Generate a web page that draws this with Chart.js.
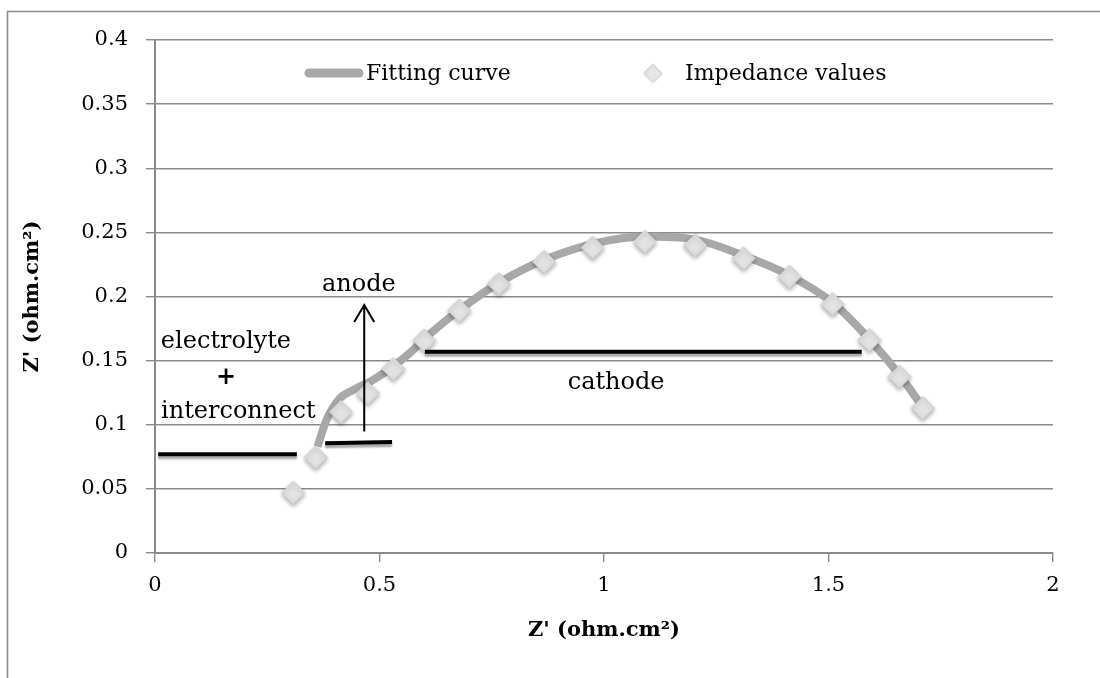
<!DOCTYPE html>
<html>
<head>
<meta charset="utf-8">
<script src="https://cdn.jsdelivr.net/npm/chart.js@4.4.0/dist/chart.umd.min.js"></script>
<style>
html,body{margin:0;padding:0;background:#fff;}
#wrap{width:1100px;height:678px;position:relative;}
</style>
</head>
<body>
<div id="wrap"><canvas id="nyquist" width="1100" height="678"></canvas></div>
<script>
// measured impedance values (diamonds)
var impX = [0.308, 0.358, 0.414, 0.474, 0.531, 0.600, 0.678, 0.766, 0.867, 0.975, 1.091, 1.203, 1.311, 1.413, 1.509, 1.591, 1.658, 1.710];
var impY = [0.047, 0.0745, 0.110, 0.1246, 0.1435, 0.1656, 0.189, 0.2097, 0.227, 0.238, 0.2427, 0.240, 0.2297, 0.2154, 0.194, 0.166, 0.1375, 0.113];

// fitting curve
var fitX = [0.362, 0.382, 0.412, 0.442, 0.486, 0.531, 0.575, 0.60, 0.68, 0.77, 0.87, 0.98, 1.09, 1.20, 1.31, 1.41, 1.51, 1.59, 1.66, 1.715];
var fitY = [0.083, 0.1038, 0.1207, 0.1272, 0.135, 0.1456, 0.1583, 0.167, 0.19, 0.2115, 0.229, 0.2415, 0.2467, 0.2445, 0.232, 0.217, 0.195, 0.167, 0.138, 0.111];

// hand drawn markers on the plot
var elecLineX = [0.007, 0.316];
var elecLineY = [0.077, 0.077];
var anodeLineX = [0.379, 0.528];
var anodeLineY = [0.0855, 0.0865];
var cathLineX = [0.601, 1.574];
var cathLineY = [0.157, 0.157];
var arrowX = [0.466, 0.466];
var arrowY = [0.0947, 0.1934];

var noteText = ['anode', 'electrolyte', '+', 'interconnect', 'cathode'];
var noteX = [0.454, 0.158, 0.158, 0.1855, 1.027];
var noteY = [0.209, 0.1648, 0.1363, 0.1103, 0.1324];

var xTicks = [0, 0.5, 1, 1.5, 2];
var yTicks = [0, 0.05, 0.1, 0.15, 0.2, 0.25, 0.3, 0.35, 0.4];

var serif = "'DejaVu Serif', serif";
var gridGray = '#8a8a8a';
var curveGray = '#a8a8a8';

function pts(xs, ys){
	return xs.map(function(x, i){ return {x: x, y: ys[i]}; });
}

// soft shadows like the spreadsheet markers
var shadowPlugin = {
	id: 'shadows',
	beforeDatasetDraw: function(chart, args){
		var ds = chart.data.datasets[args.index];
		chart.ctx.save();
		if (ds.shadow) {
			chart.ctx.shadowColor = ds.shadow;
			chart.ctx.shadowBlur = ds.shadowBlur || 3;
			chart.ctx.shadowOffsetX = ds.shadowOffsetX || 0;
			chart.ctx.shadowOffsetY = ds.shadowOffsetY || 2;
		}
	},
	afterDatasetDraw: function(chart){
		chart.ctx.restore();
	}
};

var framePlugin = {
	id: 'frame',
	beforeDraw: function(chart){
		var c = chart.ctx;
		c.save();
		c.fillStyle = '#fff';
		c.fillRect(0, 0, chart.width, chart.height);
		c.strokeStyle = gridGray;
		c.lineWidth = 1.6;
		c.beginPath();
		c.moveTo(7.5, chart.height + 5);
		c.lineTo(7.5, 11.5);
		c.lineTo(chart.width + 5, 11.5);
		c.stroke();
		c.restore();
	}
};

var notesPlugin = {
	id: 'notes',
	afterDatasetsDraw: function(chart){
		var c = chart.ctx, xs = chart.scales.x, ys = chart.scales.y;
		c.save();
		// arrow
		var ax = xs.getPixelForValue(arrowX[0]);
		var ay0 = ys.getPixelForValue(arrowY[0]);
		var ay1 = ys.getPixelForValue(arrowY[1]);
		c.strokeStyle = '#000';
		c.lineWidth = 2;
		c.beginPath();
		c.moveTo(ax, ay0);
		c.lineTo(ax, ay1);
		c.moveTo(ax - 10, ay1 + 17);
		c.lineTo(ax, ay1);
		c.lineTo(ax + 10, ay1 + 17);
		c.stroke();
		// labels
		c.fillStyle = '#000';
		c.textAlign = 'center';
		c.textBaseline = 'middle';
		for (var i = 0; i < noteText.length; i++) {
			c.font = (noteText[i] === '+' ? 'bold ' : '') + '24px ' + serif;
			c.fillText(noteText[i], xs.getPixelForValue(noteX[i]), ys.getPixelForValue(noteY[i]));
		}
		c.restore();
	}
};

var legendPlugin = {
	id: 'boxLegend',
	afterDraw: function(chart){
		var c = chart.ctx, a = chart.chartArea;
		var y = a.top + 33;
		c.save();
		c.strokeStyle = curveGray;
		c.lineWidth = 9;
		c.lineCap = 'round';
		c.beginPath();
		c.moveTo(a.left + 154, y);
		c.lineTo(a.left + 204, y);
		c.stroke();
		c.fillStyle = '#000';
		c.font = '22px ' + serif;
		c.textAlign = 'left';
		c.textBaseline = 'middle';
		c.fillText('Fitting curve', a.left + 211, y + 1);
		var dx = a.left + 498, r = 9;
		c.shadowColor = 'rgba(0,0,0,0.15)';
		c.shadowBlur = 2;
		c.shadowOffsetY = 1;
		c.fillStyle = '#e6e6e6';
		c.strokeStyle = '#d8d8d8';
		c.lineWidth = 1;
		c.beginPath();
		c.moveTo(dx, y - r);
		c.lineTo(dx + r, y);
		c.lineTo(dx, y + r);
		c.lineTo(dx - r, y);
		c.closePath();
		c.fill();
		c.stroke();
		c.shadowColor = 'transparent';
		c.fillStyle = '#000';
		c.fillText('Impedance values', a.left + 530, y + 1);
		c.restore();
	}
};

var canvasNyquist = document.getElementById('nyquist').getContext('2d');

var datosNyquist = {
	type: 'line',
	data: {
		datasets: [{
			label: 'electrolyte',
			data: pts(elecLineX, elecLineY),
			borderColor: '#000',
			borderWidth: 4,
			pointRadius: 0,
			order: 0,
			shadow: 'rgba(0,0,0,0.35)', shadowBlur: 2, shadowOffsetY: 3
		}, {
			label: 'anode',
			data: pts(anodeLineX, anodeLineY),
			borderColor: '#000',
			borderWidth: 4,
			pointRadius: 0,
			order: 0,
			shadow: 'rgba(0,0,0,0.35)', shadowBlur: 2, shadowOffsetY: 3
		}, {
			label: 'cathode',
			data: pts(cathLineX, cathLineY),
			borderColor: '#000',
			borderWidth: 4,
			pointRadius: 0,
			order: 0,
			shadow: 'rgba(0,0,0,0.35)', shadowBlur: 2, shadowOffsetY: 3
		}, {
			label: 'Impedance values',
			data: pts(impX, impY),
			showLine: false,
			pointStyle: 'rectRot',
			pointRadius: 11.5,
			pointBackgroundColor: '#e2e2e2',
			pointBorderColor: '#d0d0d0',
			pointBorderWidth: 1,
			order: 1,
			shadow: 'rgba(0,0,0,0.32)', shadowBlur: 4, shadowOffsetY: 2
		}, {
			label: 'Fitting curve',
			data: pts(fitX, fitY),
			borderColor: curveGray,
			borderWidth: 8,
			pointRadius: 0,
			cubicInterpolationMode: 'monotone',
			order: 2
		}]
	},
	options: {
		responsive: false,
		animation: false,
		events: [],
		layout: { padding: { left: 0, right: 47, top: 40, bottom: 0 } },
		plugins: { legend: { display: false }, tooltip: { enabled: false } },
		scales: {
			x: {
				type: 'linear',
				min: 0, max: 2,
				afterFit: function(s){ s.height = 125; },
				afterBuildTicks: function(s){ s.ticks = xTicks.map(function(v){ return {value: v}; }); },
				ticks: {
					color: '#000',
					padding: 11,
					font: { family: serif, size: 21 },
					callback: function(v){ return String(+v.toFixed(2)); }
				},
				grid: { drawOnChartArea: false, drawTicks: true, tickLength: 9, color: gridGray, lineWidth: 1.4 },
				border: { color: gridGray, width: 2 },
				title: {
					display: true,
					text: "Z' (ohm.cm²)",
					color: '#000',
					font: { family: serif, size: 21, weight: 'bold' },
					padding: { top: 0, bottom: 35 }
				}
			},
			y: {
				type: 'linear',
				min: 0, max: 0.4,
				afterFit: function(s){ s.width = 155; },
				afterBuildTicks: function(s){ s.ticks = yTicks.map(function(v){ return {value: v}; }); },
				ticks: {
					color: '#000',
					padding: 18,
					font: { family: serif, size: 21 },
					callback: function(v){ return String(+v.toFixed(2)); }
				},
				grid: { drawTicks: true, tickLength: 9, color: gridGray, lineWidth: 1.4 },
				border: { color: gridGray, width: 2 },
				title: {
					display: true,
					text: "Z' (ohm.cm²)",
					color: '#000',
					font: { family: serif, size: 21, weight: 'bold' },
					padding: { top: 20, bottom: 0 }
				}
			}
		}
	},
	plugins: [framePlugin, shadowPlugin, notesPlugin, legendPlugin]
};

window.nyquist = new Chart(canvasNyquist, datosNyquist);
</script>
</body>
</html>
